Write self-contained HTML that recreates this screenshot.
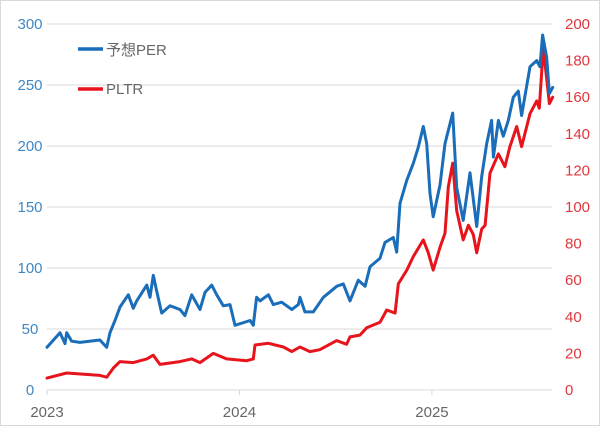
<!DOCTYPE html>
<html><head><meta charset="utf-8"><style>
html,body{margin:0;padding:0;background:#fff}
svg{display:block}
text{font-family:"Liberation Sans","Noto Sans CJK JP",sans-serif;font-size:15px}
</style></head><body>
<svg id="chart" width="600" height="426" viewBox="0 0 600 426">
<rect x="0.5" y="0.5" width="599" height="425" fill="#fff" stroke="#d9d9d9"/>
<g id="grid"></g>
<g id="ticks"></g>
<g id="series"></g>
<g>
<line x1="78" y1="49" x2="103" y2="49" stroke="#1a6db8" stroke-width="3.5"/>
<text x="106" y="55" fill="#666">予想PER</text>
<line x1="78" y1="89" x2="103" y2="89" stroke="#e8141b" stroke-width="3.5"/>
<text x="106" y="94" fill="#666">PLTR</text>
</g>
</svg>
<script>
// months since Jan 2023
const perMonths=[0,0.81,1.12,1.23,1.54,2.06,3.30,3.72,3.93,4.24,4.55,5.07,5.38,5.59,6.22,6.42,6.63,6.84,7.15,7.67,8.29,8.60,9.02,9.54,9.85,10.27,10.58,10.99,11.41,11.72,12.66,12.86,13.07,13.28,13.80,14.11,14.63,15.26,15.67,
15.77,16.08,16.60,17.23,18.06,18.47,18.89,19.41,19.83,20.14,20.76,21.07,21.59,21.80,22.01,22.43,22.84,23.15,23.46,23.67,23.88,24.08,24.50,24.81,25.29,25.54,25.95,26.37,26.79,27.10,27.41,27.72,27.83,28.14,28.45,28.76,29.07,29.38,29.59,30.11,30.53,30.73,30.90,31.15,31.32,31.53];
const perValues=[35,47,38,47,40,39,41,35,47,57,68,78,67,73,86,76,94,81,63,69,66,61,78,66,80,86,78,69,70,53,57,53,76,73,78,70,72,66,70,
76,64,64,76,85,87,73,90,85,101,108,121,125,113,153,172,186,199,216,202,161,142,168,202,227,166,139,178,134,175,202,221,191,221,208,221,240,245,225,265,270,265,291,273,243,248];
const pltrMonths=[0,1.23,3.30,3.72,4.14,4.55,5.38,6.22,6.63,7.04,8.29,9.02,9.54,10.37,11.2,12.45,12.86,12.97,13.80,14.74,15.26,15.77,16.39,17.01,18.06,18.68,18.89,19.51,19.93,20.76,21.18,21.70,21.90,22.43,22.84,23.46,23.77,24.08,24.50,24.81,25.02,25.29,25.54,25.95,26.27,26.58,26.79,27.10,27.31,27.62,28.14,28.55,28.86,29.28,29.59,30.11,30.53,30.69,30.94,31.32,31.53];
const pltrValues=[6.5,9.3,8,7,12,15.5,15,17,19,14,15.5,17,15,20,17,16,17,24.6,25.5,23.5,21,23.5,21,22,27,25,29,30,34,37,43.7,42,58,65.5,73,82,75,65.5,78,85.7,111,124,98,82,90,85,75,88,90,118.5,129,122,133,144,133,151,158,154,187,156.5,160];
const leftTicks=[0,50,100,150,200,250,300];
const rightTicks=[0,20,40,60,80,100,120,140,160,180,200];
const xTickLabels=["2023","2024","2025"];
const xTickMonths=[0,12,24];

const X0=47,X1=552,Y0=390,Y1=24;
const xs=m=>X0+m*16.04;
const yL=v=>Y0-(v/300)*(Y0-Y1);
const yR=v=>Y0-(v/200)*(Y0-Y1);
const NS="http://www.w3.org/2000/svg";
const mk=(t,a)=>{const e=document.createElementNS(NS,t);for(const k in a)e.setAttribute(k,a[k]);return e;};
const grid=document.getElementById('grid'),ticks=document.getElementById('ticks'),series=document.getElementById('series');
leftTicks.forEach(v=>{
  const l=mk('line',{x1:X0,x2:X1,y1:yL(v),y2:yL(v),stroke:'#d9d9d9','stroke-width':1});
  
  
  grid.appendChild(l);
  const t=mk('text',{x:30,y:yL(v)+5,'text-anchor':'middle',fill:'#3f88c5'});t.textContent=v;
  
  
  ticks.appendChild(t);
});
rightTicks.forEach(v=>{
  const t=mk('text',{x:565,y:yR(v)+5,'text-anchor':'start',fill:'#e0363c'});t.textContent=v;
  
  
  ticks.appendChild(t);
});
xTickLabels.forEach((s,i)=>{
  const x=xs(xTickMonths[i]);
  const tk=mk('line',{x1:x,x2:x,y1:Y0,y2:Y0+5,stroke:'#d9d9d9'});
  
  
  ticks.appendChild(tk);
  const t=mk('text',{x:x,y:417,'text-anchor':'middle',fill:'#666'});t.textContent=s;
  
  
  ticks.appendChild(t);
});
function line(ms,vs,yf,col,name){
  const k=Math.min(ms.length,vs.length);
  let p=[];for(let i=0;i<k;i++)p.push(xs(ms[i]).toFixed(1)+','+yf(vs[i]).toFixed(1));
  const pl=mk('polyline',{points:p.join(' '),fill:'none',stroke:col,'stroke-width':3,'stroke-linejoin':'round','stroke-linecap':'round'});
  
  
  series.appendChild(pl);
}
line(pltrMonths,pltrValues,yR,'#e8141b','pltr-line');
line(perMonths,perValues,yL,'#1a6db8','per-line');
</script>
</body></html>
